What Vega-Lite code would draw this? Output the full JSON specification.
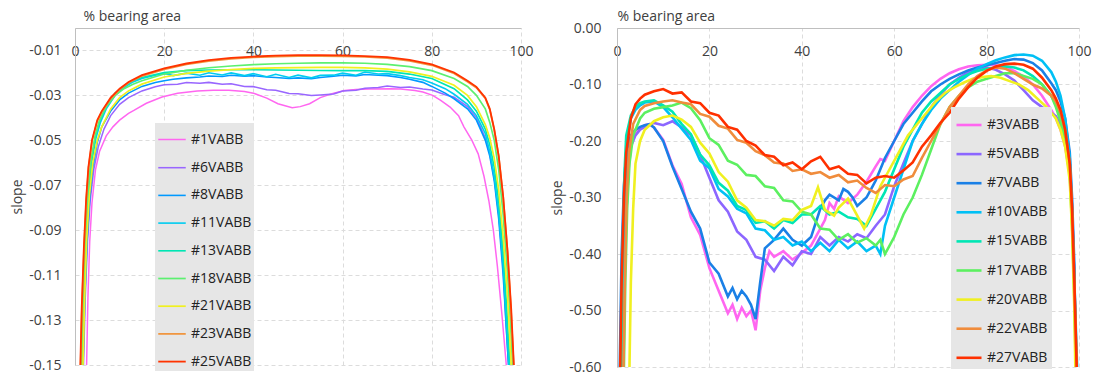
{
"$schema": "https://vega.github.io/schema/vega-lite/v6.json",
"background": "white",
"padding": {"left": 10, "top": 9, "right": 5, "bottom": 0},
"spacing": 16,
"config": {
  "font": "Open Sans",
  "view": {"stroke": null},
  "axis": {"labelFont": "Open Sans", "labelFontSize": 14, "labelColor": "#404040", "titleFont": "Open Sans", "titleFontSize": 14, "titleFontWeight": "normal", "titleColor": "#404040", "domainColor": "#bfbfbf", "gridColor": "#dcdcdc", "gridDash": [4, 3], "ticks": false, "tickSize": 0},
  "legend": {"orient": "none", "fillColor": "#e6e6e6", "symbolType": "stroke", "symbolStrokeWidth": 1.6, "labelFont": "Open Sans", "labelFontSize": 14, "labelColor": "#222222", "labelOffset": 4, "rowPadding": 0}
},
"datasets": {
"left": [
{"s":"#1VABB","x":2.6,"y":-0.15},{"s":"#1VABB","x":2.9,"y":-0.12},{"s":"#1VABB","x":3.3,"y":-0.095},{"s":"#1VABB","x":3.8,"y":-0.078},{"s":"#1VABB","x":4.6,"y":-0.063},{"s":"#1VABB","x":5.5,"y":-0.055},{"s":"#1VABB","x":7,"y":-0.048},{"s":"#1VABB","x":8.5,"y":-0.044},{"s":"#1VABB","x":10,"y":-0.041},{"s":"#1VABB","x":12,"y":-0.038},{"s":"#1VABB","x":13.2,"y":-0.0367},{"s":"#1VABB","x":16,"y":-0.0335},{"s":"#1VABB","x":19.5,"y":-0.0307},{"s":"#1VABB","x":23,"y":-0.029},{"s":"#1VABB","x":27.4,"y":-0.028},{"s":"#1VABB","x":31,"y":-0.0277},{"s":"#1VABB","x":34.5,"y":-0.0277},{"s":"#1VABB","x":38,"y":-0.0283},{"s":"#1VABB","x":40,"y":-0.029},{"s":"#1VABB","x":43,"y":-0.0312},{"s":"#1VABB","x":45.5,"y":-0.0337},{"s":"#1VABB","x":48.7,"y":-0.0355},{"s":"#1VABB","x":50.5,"y":-0.035},{"s":"#1VABB","x":52.6,"y":-0.0337},{"s":"#1VABB","x":55,"y":-0.031},{"s":"#1VABB","x":58,"y":-0.029},{"s":"#1VABB","x":60.5,"y":-0.0278},{"s":"#1VABB","x":63,"y":-0.0274},{"s":"#1VABB","x":66,"y":-0.0272},{"s":"#1VABB","x":70.7,"y":-0.027},{"s":"#1VABB","x":73,"y":-0.0272},{"s":"#1VABB","x":76.2,"y":-0.0278},{"s":"#1VABB","x":78,"y":-0.0285},{"s":"#1VABB","x":80.2,"y":-0.03},{"s":"#1VABB","x":82,"y":-0.0322},{"s":"#1VABB","x":84.1,"y":-0.0352},{"s":"#1VABB","x":86,"y":-0.039},{"s":"#1VABB","x":87.2,"y":-0.044},{"s":"#1VABB","x":89,"y":-0.05},{"s":"#1VABB","x":90.4,"y":-0.056},{"s":"#1VABB","x":91.7,"y":-0.066},{"s":"#1VABB","x":92.8,"y":-0.077},{"s":"#1VABB","x":93.8,"y":-0.09},{"s":"#1VABB","x":94.7,"y":-0.106},{"s":"#1VABB","x":95.7,"y":-0.127},{"s":"#1VABB","x":96.7,"y":-0.15},
{"s":"#6VABB","x":1.9,"y":-0.15},{"s":"#6VABB","x":2.3,"y":-0.12},{"s":"#6VABB","x":2.8,"y":-0.095},{"s":"#6VABB","x":3.4,"y":-0.077},{"s":"#6VABB","x":4.2,"y":-0.063},{"s":"#6VABB","x":5.2,"y":-0.053},{"s":"#6VABB","x":6.5,"y":-0.045},{"s":"#6VABB","x":8,"y":-0.039},{"s":"#6VABB","x":10,"y":-0.034},{"s":"#6VABB","x":12,"y":-0.031},{"s":"#6VABB","x":15,"y":-0.028},{"s":"#6VABB","x":18,"y":-0.0262},{"s":"#6VABB","x":20,"y":-0.0253},{"s":"#6VABB","x":23,"y":-0.025},{"s":"#6VABB","x":25,"y":-0.0243},{"s":"#6VABB","x":28,"y":-0.0246},{"s":"#6VABB","x":30,"y":-0.0242},{"s":"#6VABB","x":33,"y":-0.025},{"s":"#6VABB","x":35,"y":-0.0248},{"s":"#6VABB","x":38,"y":-0.026},{"s":"#6VABB","x":40,"y":-0.0261},{"s":"#6VABB","x":43,"y":-0.0275},{"s":"#6VABB","x":45,"y":-0.0277},{"s":"#6VABB","x":48,"y":-0.0292},{"s":"#6VABB","x":50,"y":-0.0293},{"s":"#6VABB","x":53,"y":-0.03},{"s":"#6VABB","x":55,"y":-0.0298},{"s":"#6VABB","x":58,"y":-0.0294},{"s":"#6VABB","x":60,"y":-0.028},{"s":"#6VABB","x":63,"y":-0.0277},{"s":"#6VABB","x":65,"y":-0.0268},{"s":"#6VABB","x":68,"y":-0.0265},{"s":"#6VABB","x":70,"y":-0.0258},{"s":"#6VABB","x":73,"y":-0.0265},{"s":"#6VABB","x":75,"y":-0.0263},{"s":"#6VABB","x":78,"y":-0.0272},{"s":"#6VABB","x":80,"y":-0.0276},{"s":"#6VABB","x":83,"y":-0.0297},{"s":"#6VABB","x":85,"y":-0.0308},{"s":"#6VABB","x":88,"y":-0.035},{"s":"#6VABB","x":90,"y":-0.04},{"s":"#6VABB","x":92,"y":-0.049},{"s":"#6VABB","x":93,"y":-0.056},{"s":"#6VABB","x":94,"y":-0.067},{"s":"#6VABB","x":95,"y":-0.083},{"s":"#6VABB","x":96,"y":-0.107},{"s":"#6VABB","x":96.6,"y":-0.13},{"s":"#6VABB","x":97.2,"y":-0.15},
{"s":"#8VABB","x":1.8,"y":-0.15},{"s":"#8VABB","x":2.2,"y":-0.12},{"s":"#8VABB","x":2.7,"y":-0.095},{"s":"#8VABB","x":3.3,"y":-0.076},{"s":"#8VABB","x":4,"y":-0.062},{"s":"#8VABB","x":5,"y":-0.051},{"s":"#8VABB","x":6,"y":-0.044},{"s":"#8VABB","x":8,"y":-0.037},{"s":"#8VABB","x":10,"y":-0.032},{"s":"#8VABB","x":12,"y":-0.029},{"s":"#8VABB","x":15,"y":-0.026},{"s":"#8VABB","x":18,"y":-0.0243},{"s":"#8VABB","x":20,"y":-0.0235},{"s":"#8VABB","x":22,"y":-0.0228},{"s":"#8VABB","x":25,"y":-0.0222},{"s":"#8VABB","x":28,"y":-0.0218},{"s":"#8VABB","x":30,"y":-0.0214},{"s":"#8VABB","x":33,"y":-0.0216},{"s":"#8VABB","x":35,"y":-0.021},{"s":"#8VABB","x":38,"y":-0.0215},{"s":"#8VABB","x":40,"y":-0.0212},{"s":"#8VABB","x":43,"y":-0.0218},{"s":"#8VABB","x":45,"y":-0.022},{"s":"#8VABB","x":48,"y":-0.0225},{"s":"#8VABB","x":50,"y":-0.0222},{"s":"#8VABB","x":53,"y":-0.0226},{"s":"#8VABB","x":55,"y":-0.022},{"s":"#8VABB","x":58,"y":-0.0215},{"s":"#8VABB","x":60,"y":-0.021},{"s":"#8VABB","x":63,"y":-0.0213},{"s":"#8VABB","x":65,"y":-0.0207},{"s":"#8VABB","x":68,"y":-0.021},{"s":"#8VABB","x":70,"y":-0.0212},{"s":"#8VABB","x":73,"y":-0.022},{"s":"#8VABB","x":75,"y":-0.0228},{"s":"#8VABB","x":78,"y":-0.0242},{"s":"#8VABB","x":80,"y":-0.026},{"s":"#8VABB","x":83,"y":-0.029},{"s":"#8VABB","x":85,"y":-0.0315},{"s":"#8VABB","x":88,"y":-0.036},{"s":"#8VABB","x":90,"y":-0.041},{"s":"#8VABB","x":92,"y":-0.05},{"s":"#8VABB","x":93,"y":-0.057},{"s":"#8VABB","x":94,"y":-0.068},{"s":"#8VABB","x":95,"y":-0.085},{"s":"#8VABB","x":96,"y":-0.11},{"s":"#8VABB","x":96.6,"y":-0.13},{"s":"#8VABB","x":97.2,"y":-0.15},
{"s":"#11VABB","x":1.6,"y":-0.15},{"s":"#11VABB","x":2,"y":-0.12},{"s":"#11VABB","x":2.5,"y":-0.093},{"s":"#11VABB","x":3,"y":-0.076},{"s":"#11VABB","x":3.7,"y":-0.06},{"s":"#11VABB","x":4.7,"y":-0.049},{"s":"#11VABB","x":5.7,"y":-0.042},{"s":"#11VABB","x":7,"y":-0.036},{"s":"#11VABB","x":9,"y":-0.03},{"s":"#11VABB","x":11,"y":-0.0265},{"s":"#11VABB","x":13,"y":-0.024},{"s":"#11VABB","x":15,"y":-0.0225},{"s":"#11VABB","x":18,"y":-0.021},{"s":"#11VABB","x":20,"y":-0.0202},{"s":"#11VABB","x":22,"y":-0.0212},{"s":"#11VABB","x":25,"y":-0.0201},{"s":"#11VABB","x":28,"y":-0.021},{"s":"#11VABB","x":30,"y":-0.0199},{"s":"#11VABB","x":33,"y":-0.0209},{"s":"#11VABB","x":35,"y":-0.02},{"s":"#11VABB","x":38,"y":-0.0212},{"s":"#11VABB","x":40,"y":-0.0203},{"s":"#11VABB","x":43,"y":-0.0217},{"s":"#11VABB","x":45,"y":-0.0206},{"s":"#11VABB","x":48,"y":-0.022},{"s":"#11VABB","x":50,"y":-0.021},{"s":"#11VABB","x":53,"y":-0.0222},{"s":"#11VABB","x":55,"y":-0.0211},{"s":"#11VABB","x":58,"y":-0.021},{"s":"#11VABB","x":60,"y":-0.0201},{"s":"#11VABB","x":63,"y":-0.021},{"s":"#11VABB","x":65,"y":-0.0196},{"s":"#11VABB","x":68,"y":-0.0205},{"s":"#11VABB","x":70,"y":-0.0203},{"s":"#11VABB","x":73,"y":-0.0212},{"s":"#11VABB","x":75,"y":-0.022},{"s":"#11VABB","x":78,"y":-0.023},{"s":"#11VABB","x":80,"y":-0.0245},{"s":"#11VABB","x":83,"y":-0.027},{"s":"#11VABB","x":85,"y":-0.0295},{"s":"#11VABB","x":88,"y":-0.034},{"s":"#11VABB","x":90,"y":-0.039},{"s":"#11VABB","x":92,"y":-0.047},{"s":"#11VABB","x":93,"y":-0.055},{"s":"#11VABB","x":94,"y":-0.066},{"s":"#11VABB","x":95,"y":-0.082},{"s":"#11VABB","x":96,"y":-0.105},{"s":"#11VABB","x":96.7,"y":-0.13},{"s":"#11VABB","x":97.3,"y":-0.15},
{"s":"#13VABB","x":1.6,"y":-0.15},{"s":"#13VABB","x":1.9,"y":-0.125},{"s":"#13VABB","x":2.4,"y":-0.095},{"s":"#13VABB","x":2.9,"y":-0.076},{"s":"#13VABB","x":3.6,"y":-0.06},{"s":"#13VABB","x":4.6,"y":-0.048},{"s":"#13VABB","x":5.6,"y":-0.041},{"s":"#13VABB","x":7,"y":-0.035},{"s":"#13VABB","x":9,"y":-0.029},{"s":"#13VABB","x":11,"y":-0.026},{"s":"#13VABB","x":13,"y":-0.0235},{"s":"#13VABB","x":15,"y":-0.022},{"s":"#13VABB","x":20,"y":-0.0198},{"s":"#13VABB","x":25,"y":-0.019},{"s":"#13VABB","x":30,"y":-0.0187},{"s":"#13VABB","x":35,"y":-0.0186},{"s":"#13VABB","x":40,"y":-0.0186},{"s":"#13VABB","x":45,"y":-0.0187},{"s":"#13VABB","x":50,"y":-0.0188},{"s":"#13VABB","x":55,"y":-0.0189},{"s":"#13VABB","x":60,"y":-0.019},{"s":"#13VABB","x":65,"y":-0.019},{"s":"#13VABB","x":70,"y":-0.0193},{"s":"#13VABB","x":75,"y":-0.0205},{"s":"#13VABB","x":80,"y":-0.0225},{"s":"#13VABB","x":85,"y":-0.027},{"s":"#13VABB","x":88,"y":-0.032},{"s":"#13VABB","x":90,"y":-0.037},{"s":"#13VABB","x":92,"y":-0.045},{"s":"#13VABB","x":93,"y":-0.052},{"s":"#13VABB","x":94,"y":-0.062},{"s":"#13VABB","x":95,"y":-0.077},{"s":"#13VABB","x":96,"y":-0.1},{"s":"#13VABB","x":96.8,"y":-0.125},{"s":"#13VABB","x":97.5,"y":-0.15},
{"s":"#18VABB","x":1.5,"y":-0.15},{"s":"#18VABB","x":1.8,"y":-0.125},{"s":"#18VABB","x":2.3,"y":-0.095},{"s":"#18VABB","x":2.8,"y":-0.076},{"s":"#18VABB","x":3.5,"y":-0.06},{"s":"#18VABB","x":4.5,"y":-0.048},{"s":"#18VABB","x":5.5,"y":-0.041},{"s":"#18VABB","x":7,"y":-0.035},{"s":"#18VABB","x":9,"y":-0.03},{"s":"#18VABB","x":11,"y":-0.027},{"s":"#18VABB","x":13,"y":-0.025},{"s":"#18VABB","x":15,"y":-0.0235},{"s":"#18VABB","x":20,"y":-0.0205},{"s":"#18VABB","x":25,"y":-0.0188},{"s":"#18VABB","x":30,"y":-0.0177},{"s":"#18VABB","x":35,"y":-0.0169},{"s":"#18VABB","x":40,"y":-0.0163},{"s":"#18VABB","x":45,"y":-0.0159},{"s":"#18VABB","x":50,"y":-0.0157},{"s":"#18VABB","x":55,"y":-0.0155},{"s":"#18VABB","x":60,"y":-0.0155},{"s":"#18VABB","x":65,"y":-0.0157},{"s":"#18VABB","x":70,"y":-0.0162},{"s":"#18VABB","x":75,"y":-0.0172},{"s":"#18VABB","x":80,"y":-0.019},{"s":"#18VABB","x":85,"y":-0.0225},{"s":"#18VABB","x":88,"y":-0.026},{"s":"#18VABB","x":90,"y":-0.03},{"s":"#18VABB","x":92,"y":-0.036},{"s":"#18VABB","x":93,"y":-0.042},{"s":"#18VABB","x":94,"y":-0.05},{"s":"#18VABB","x":95,"y":-0.063},{"s":"#18VABB","x":96,"y":-0.083},{"s":"#18VABB","x":97,"y":-0.11},{"s":"#18VABB","x":97.6,"y":-0.13},{"s":"#18VABB","x":98.1,"y":-0.15},
{"s":"#21VABB","x":1.8,"y":-0.15},{"s":"#21VABB","x":2.1,"y":-0.125},{"s":"#21VABB","x":2.6,"y":-0.095},{"s":"#21VABB","x":3.2,"y":-0.075},{"s":"#21VABB","x":4,"y":-0.06},{"s":"#21VABB","x":5,"y":-0.05},{"s":"#21VABB","x":6,"y":-0.044},{"s":"#21VABB","x":8,"y":-0.036},{"s":"#21VABB","x":10,"y":-0.031},{"s":"#21VABB","x":12,"y":-0.028},{"s":"#21VABB","x":15,"y":-0.025},{"s":"#21VABB","x":20,"y":-0.0218},{"s":"#21VABB","x":25,"y":-0.0202},{"s":"#21VABB","x":30,"y":-0.0192},{"s":"#21VABB","x":35,"y":-0.0185},{"s":"#21VABB","x":40,"y":-0.018},{"s":"#21VABB","x":45,"y":-0.0177},{"s":"#21VABB","x":50,"y":-0.0176},{"s":"#21VABB","x":55,"y":-0.0175},{"s":"#21VABB","x":60,"y":-0.0175},{"s":"#21VABB","x":65,"y":-0.0177},{"s":"#21VABB","x":70,"y":-0.0183},{"s":"#21VABB","x":75,"y":-0.0195},{"s":"#21VABB","x":80,"y":-0.0215},{"s":"#21VABB","x":85,"y":-0.0255},{"s":"#21VABB","x":88,"y":-0.03},{"s":"#21VABB","x":90,"y":-0.035},{"s":"#21VABB","x":92,"y":-0.043},{"s":"#21VABB","x":93,"y":-0.049},{"s":"#21VABB","x":94,"y":-0.058},{"s":"#21VABB","x":95,"y":-0.072},{"s":"#21VABB","x":96,"y":-0.093},{"s":"#21VABB","x":97,"y":-0.12},{"s":"#21VABB","x":97.8,"y":-0.15},
{"s":"#23VABB","x":1.25,"y":-0.15},{"s":"#23VABB","x":1.55,"y":-0.125},{"s":"#23VABB","x":2.05,"y":-0.097},{"s":"#23VABB","x":2.55,"y":-0.076},{"s":"#23VABB","x":3.05,"y":-0.062},{"s":"#23VABB","x":3.85,"y":-0.05},{"s":"#23VABB","x":5,"y":-0.0414},{"s":"#23VABB","x":6,"y":-0.0374},{"s":"#23VABB","x":8,"y":-0.0314},{"s":"#23VABB","x":10,"y":-0.0274},{"s":"#23VABB","x":12,"y":-0.0244},{"s":"#23VABB","x":15,"y":-0.0214},{"s":"#23VABB","x":20,"y":-0.0184},{"s":"#23VABB","x":25,"y":-0.0162},{"s":"#23VABB","x":30,"y":-0.0147},{"s":"#23VABB","x":35,"y":-0.0137},{"s":"#23VABB","x":40,"y":-0.0131},{"s":"#23VABB","x":45,"y":-0.0127},{"s":"#23VABB","x":50,"y":-0.0125},{"s":"#23VABB","x":55,"y":-0.0125},{"s":"#23VABB","x":60,"y":-0.0126},{"s":"#23VABB","x":65,"y":-0.0129},{"s":"#23VABB","x":70,"y":-0.0134},{"s":"#23VABB","x":75,"y":-0.0146},{"s":"#23VABB","x":80,"y":-0.0166},{"s":"#23VABB","x":85,"y":-0.0202},{"s":"#23VABB","x":88,"y":-0.0239},{"s":"#23VABB","x":90,"y":-0.0266},{"s":"#23VABB","x":92,"y":-0.0314},{"s":"#23VABB","x":93,"y":-0.0364},{"s":"#23VABB","x":94,"y":-0.0454},{"s":"#23VABB","x":95,"y":-0.057},{"s":"#23VABB","x":96,"y":-0.075},{"s":"#23VABB","x":97,"y":-0.1},{"s":"#23VABB","x":97.75,"y":-0.125},{"s":"#23VABB","x":98.35,"y":-0.15},
{"s":"#25VABB","x":1.2,"y":-0.15},{"s":"#25VABB","x":1.5,"y":-0.125},{"s":"#25VABB","x":2,"y":-0.097},{"s":"#25VABB","x":2.5,"y":-0.076},{"s":"#25VABB","x":3,"y":-0.062},{"s":"#25VABB","x":3.8,"y":-0.05},{"s":"#25VABB","x":5,"y":-0.041},{"s":"#25VABB","x":6,"y":-0.037},{"s":"#25VABB","x":8,"y":-0.031},{"s":"#25VABB","x":10,"y":-0.027},{"s":"#25VABB","x":12,"y":-0.024},{"s":"#25VABB","x":15,"y":-0.021},{"s":"#25VABB","x":20,"y":-0.018},{"s":"#25VABB","x":25,"y":-0.0158},{"s":"#25VABB","x":30,"y":-0.0143},{"s":"#25VABB","x":35,"y":-0.0133},{"s":"#25VABB","x":40,"y":-0.0127},{"s":"#25VABB","x":45,"y":-0.0123},{"s":"#25VABB","x":50,"y":-0.0121},{"s":"#25VABB","x":55,"y":-0.0121},{"s":"#25VABB","x":60,"y":-0.0122},{"s":"#25VABB","x":65,"y":-0.0125},{"s":"#25VABB","x":70,"y":-0.013},{"s":"#25VABB","x":75,"y":-0.0142},{"s":"#25VABB","x":80,"y":-0.0162},{"s":"#25VABB","x":85,"y":-0.0198},{"s":"#25VABB","x":88,"y":-0.0235},{"s":"#25VABB","x":90,"y":-0.0262},{"s":"#25VABB","x":92,"y":-0.031},{"s":"#25VABB","x":93,"y":-0.036},{"s":"#25VABB","x":94,"y":-0.045},{"s":"#25VABB","x":95,"y":-0.057},{"s":"#25VABB","x":96,"y":-0.075},{"s":"#25VABB","x":97,"y":-0.1},{"s":"#25VABB","x":97.8,"y":-0.125},{"s":"#25VABB","x":98.4,"y":-0.15}
],
"right": [
{"s":"#3VABB","x":1.0,"y":-0.6},{"s":"#3VABB","x":1.3,"y":-0.45},{"s":"#3VABB","x":1.7,"y":-0.32},{"s":"#3VABB","x":2.2,"y":-0.24},{"s":"#3VABB","x":3,"y":-0.2},{"s":"#3VABB","x":4,"y":-0.185},{"s":"#3VABB","x":5,"y":-0.178},{"s":"#3VABB","x":6,"y":-0.172},{"s":"#3VABB","x":7,"y":-0.17},{"s":"#3VABB","x":8,"y":-0.176},{"s":"#3VABB","x":10,"y":-0.198},{"s":"#3VABB","x":12,"y":-0.243},{"s":"#3VABB","x":14,"y":-0.276},{"s":"#3VABB","x":16,"y":-0.335},{"s":"#3VABB","x":18,"y":-0.366},{"s":"#3VABB","x":20,"y":-0.425},{"s":"#3VABB","x":22,"y":-0.465},{"s":"#3VABB","x":24,"y":-0.505},{"s":"#3VABB","x":25,"y":-0.49},{"s":"#3VABB","x":26,"y":-0.515},{"s":"#3VABB","x":27,"y":-0.495},{"s":"#3VABB","x":28,"y":-0.51},{"s":"#3VABB","x":29,"y":-0.5},{"s":"#3VABB","x":30,"y":-0.535},{"s":"#3VABB","x":31,"y":-0.465},{"s":"#3VABB","x":32,"y":-0.425},{"s":"#3VABB","x":33,"y":-0.395},{"s":"#3VABB","x":34,"y":-0.405},{"s":"#3VABB","x":36,"y":-0.395},{"s":"#3VABB","x":38,"y":-0.41},{"s":"#3VABB","x":40,"y":-0.398},{"s":"#3VABB","x":42,"y":-0.385},{"s":"#3VABB","x":44,"y":-0.355},{"s":"#3VABB","x":45,"y":-0.34},{"s":"#3VABB","x":46,"y":-0.31},{"s":"#3VABB","x":47,"y":-0.32},{"s":"#3VABB","x":48,"y":-0.298},{"s":"#3VABB","x":50,"y":-0.31},{"s":"#3VABB","x":52,"y":-0.295},{"s":"#3VABB","x":54,"y":-0.272},{"s":"#3VABB","x":56,"y":-0.245},{"s":"#3VABB","x":57,"y":-0.232},{"s":"#3VABB","x":58,"y":-0.235},{"s":"#3VABB","x":60,"y":-0.2},{"s":"#3VABB","x":62,"y":-0.165},{"s":"#3VABB","x":64,"y":-0.14},{"s":"#3VABB","x":66,"y":-0.12},{"s":"#3VABB","x":68,"y":-0.103},{"s":"#3VABB","x":70,"y":-0.09},{"s":"#3VABB","x":72,"y":-0.08},{"s":"#3VABB","x":74,"y":-0.073},{"s":"#3VABB","x":76,"y":-0.068},{"s":"#3VABB","x":78,"y":-0.066},{"s":"#3VABB","x":80,"y":-0.065},{"s":"#3VABB","x":82,"y":-0.066},{"s":"#3VABB","x":84,"y":-0.069},{"s":"#3VABB","x":86,"y":-0.076},{"s":"#3VABB","x":88,"y":-0.086},{"s":"#3VABB","x":90,"y":-0.1},{"s":"#3VABB","x":92,"y":-0.12},{"s":"#3VABB","x":94,"y":-0.145},{"s":"#3VABB","x":95,"y":-0.16},{"s":"#3VABB","x":96,"y":-0.18},{"s":"#3VABB","x":97,"y":-0.21},{"s":"#3VABB","x":98,"y":-0.26},{"s":"#3VABB","x":98.5,"y":-0.33},{"s":"#3VABB","x":99,"y":-0.45},{"s":"#3VABB","x":99.4,"y":-0.6},
{"s":"#5VABB","x":1.2,"y":-0.6},{"s":"#5VABB","x":1.6,"y":-0.45},{"s":"#5VABB","x":2,"y":-0.33},{"s":"#5VABB","x":2.5,"y":-0.25},{"s":"#5VABB","x":3,"y":-0.21},{"s":"#5VABB","x":4,"y":-0.19},{"s":"#5VABB","x":5,"y":-0.18},{"s":"#5VABB","x":6,"y":-0.175},{"s":"#5VABB","x":8,"y":-0.168},{"s":"#5VABB","x":10,"y":-0.172},{"s":"#5VABB","x":12,"y":-0.165},{"s":"#5VABB","x":14,"y":-0.176},{"s":"#5VABB","x":16,"y":-0.19},{"s":"#5VABB","x":18,"y":-0.225},{"s":"#5VABB","x":20,"y":-0.265},{"s":"#5VABB","x":22,"y":-0.305},{"s":"#5VABB","x":24,"y":-0.325},{"s":"#5VABB","x":26,"y":-0.36},{"s":"#5VABB","x":28,"y":-0.375},{"s":"#5VABB","x":30,"y":-0.405},{"s":"#5VABB","x":32,"y":-0.41},{"s":"#5VABB","x":34,"y":-0.43},{"s":"#5VABB","x":36,"y":-0.405},{"s":"#5VABB","x":38,"y":-0.42},{"s":"#5VABB","x":40,"y":-0.395},{"s":"#5VABB","x":42,"y":-0.4},{"s":"#5VABB","x":44,"y":-0.37},{"s":"#5VABB","x":46,"y":-0.385},{"s":"#5VABB","x":48,"y":-0.37},{"s":"#5VABB","x":50,"y":-0.378},{"s":"#5VABB","x":52,"y":-0.365},{"s":"#5VABB","x":54,"y":-0.372},{"s":"#5VABB","x":56,"y":-0.35},{"s":"#5VABB","x":58,"y":-0.33},{"s":"#5VABB","x":60,"y":-0.28},{"s":"#5VABB","x":62,"y":-0.24},{"s":"#5VABB","x":64,"y":-0.2},{"s":"#5VABB","x":66,"y":-0.17},{"s":"#5VABB","x":68,"y":-0.14},{"s":"#5VABB","x":70,"y":-0.118},{"s":"#5VABB","x":72,"y":-0.1},{"s":"#5VABB","x":74,"y":-0.088},{"s":"#5VABB","x":76,"y":-0.078},{"s":"#5VABB","x":78,"y":-0.072},{"s":"#5VABB","x":80,"y":-0.07},{"s":"#5VABB","x":82,"y":-0.074},{"s":"#5VABB","x":84,"y":-0.082},{"s":"#5VABB","x":86,"y":-0.093},{"s":"#5VABB","x":88,"y":-0.11},{"s":"#5VABB","x":90,"y":-0.128},{"s":"#5VABB","x":92,"y":-0.14},{"s":"#5VABB","x":94,"y":-0.15},{"s":"#5VABB","x":95,"y":-0.156},{"s":"#5VABB","x":96,"y":-0.17},{"s":"#5VABB","x":97,"y":-0.2},{"s":"#5VABB","x":98,"y":-0.25},{"s":"#5VABB","x":98.5,"y":-0.32},{"s":"#5VABB","x":99,"y":-0.45},{"s":"#5VABB","x":99.4,"y":-0.6},
{"s":"#7VABB","x":0.6,"y":-0.6},{"s":"#7VABB","x":1,"y":-0.4},{"s":"#7VABB","x":1.5,"y":-0.28},{"s":"#7VABB","x":2,"y":-0.22},{"s":"#7VABB","x":3,"y":-0.19},{"s":"#7VABB","x":4,"y":-0.18},{"s":"#7VABB","x":5,"y":-0.175},{"s":"#7VABB","x":6,"y":-0.172},{"s":"#7VABB","x":7,"y":-0.17},{"s":"#7VABB","x":8,"y":-0.176},{"s":"#7VABB","x":10,"y":-0.2},{"s":"#7VABB","x":12,"y":-0.245},{"s":"#7VABB","x":14,"y":-0.285},{"s":"#7VABB","x":16,"y":-0.325},{"s":"#7VABB","x":18,"y":-0.355},{"s":"#7VABB","x":20,"y":-0.415},{"s":"#7VABB","x":22,"y":-0.435},{"s":"#7VABB","x":24,"y":-0.475},{"s":"#7VABB","x":25,"y":-0.46},{"s":"#7VABB","x":26,"y":-0.48},{"s":"#7VABB","x":27,"y":-0.465},{"s":"#7VABB","x":28,"y":-0.475},{"s":"#7VABB","x":29,"y":-0.49},{"s":"#7VABB","x":30,"y":-0.515},{"s":"#7VABB","x":31,"y":-0.45},{"s":"#7VABB","x":32,"y":-0.39},{"s":"#7VABB","x":34,"y":-0.375},{"s":"#7VABB","x":36,"y":-0.355},{"s":"#7VABB","x":38,"y":-0.375},{"s":"#7VABB","x":40,"y":-0.385},{"s":"#7VABB","x":42,"y":-0.37},{"s":"#7VABB","x":44,"y":-0.32},{"s":"#7VABB","x":45,"y":-0.305},{"s":"#7VABB","x":46,"y":-0.295},{"s":"#7VABB","x":48,"y":-0.305},{"s":"#7VABB","x":49,"y":-0.285},{"s":"#7VABB","x":50,"y":-0.29},{"s":"#7VABB","x":51,"y":-0.3},{"s":"#7VABB","x":52,"y":-0.315},{"s":"#7VABB","x":54,"y":-0.3},{"s":"#7VABB","x":55,"y":-0.285},{"s":"#7VABB","x":56,"y":-0.27},{"s":"#7VABB","x":58,"y":-0.23},{"s":"#7VABB","x":60,"y":-0.2},{"s":"#7VABB","x":62,"y":-0.17},{"s":"#7VABB","x":64,"y":-0.15},{"s":"#7VABB","x":66,"y":-0.13},{"s":"#7VABB","x":68,"y":-0.112},{"s":"#7VABB","x":70,"y":-0.1},{"s":"#7VABB","x":72,"y":-0.09},{"s":"#7VABB","x":74,"y":-0.082},{"s":"#7VABB","x":76,"y":-0.075},{"s":"#7VABB","x":78,"y":-0.07},{"s":"#7VABB","x":80,"y":-0.066},{"s":"#7VABB","x":82,"y":-0.062},{"s":"#7VABB","x":84,"y":-0.058},{"s":"#7VABB","x":86,"y":-0.055},{"s":"#7VABB","x":88,"y":-0.056},{"s":"#7VABB","x":90,"y":-0.062},{"s":"#7VABB","x":92,"y":-0.075},{"s":"#7VABB","x":94,"y":-0.098},{"s":"#7VABB","x":95,"y":-0.11},{"s":"#7VABB","x":96,"y":-0.13},{"s":"#7VABB","x":97,"y":-0.16},{"s":"#7VABB","x":98,"y":-0.22},{"s":"#7VABB","x":98.5,"y":-0.3},{"s":"#7VABB","x":99,"y":-0.42},{"s":"#7VABB","x":99.3,"y":-0.6},
{"s":"#10VABB","x":1.0,"y":-0.6},{"s":"#10VABB","x":1.3,"y":-0.45},{"s":"#10VABB","x":1.7,"y":-0.3},{"s":"#10VABB","x":2.2,"y":-0.2},{"s":"#10VABB","x":3,"y":-0.16},{"s":"#10VABB","x":4,"y":-0.145},{"s":"#10VABB","x":5,"y":-0.137},{"s":"#10VABB","x":6,"y":-0.132},{"s":"#10VABB","x":8,"y":-0.13},{"s":"#10VABB","x":10,"y":-0.14},{"s":"#10VABB","x":12,"y":-0.158},{"s":"#10VABB","x":14,"y":-0.178},{"s":"#10VABB","x":16,"y":-0.198},{"s":"#10VABB","x":18,"y":-0.235},{"s":"#10VABB","x":20,"y":-0.248},{"s":"#10VABB","x":22,"y":-0.285},{"s":"#10VABB","x":24,"y":-0.298},{"s":"#10VABB","x":26,"y":-0.32},{"s":"#10VABB","x":28,"y":-0.328},{"s":"#10VABB","x":30,"y":-0.355},{"s":"#10VABB","x":32,"y":-0.358},{"s":"#10VABB","x":34,"y":-0.375},{"s":"#10VABB","x":36,"y":-0.37},{"s":"#10VABB","x":38,"y":-0.385},{"s":"#10VABB","x":40,"y":-0.378},{"s":"#10VABB","x":42,"y":-0.395},{"s":"#10VABB","x":44,"y":-0.38},{"s":"#10VABB","x":46,"y":-0.395},{"s":"#10VABB","x":48,"y":-0.375},{"s":"#10VABB","x":50,"y":-0.39},{"s":"#10VABB","x":52,"y":-0.378},{"s":"#10VABB","x":54,"y":-0.395},{"s":"#10VABB","x":56,"y":-0.385},{"s":"#10VABB","x":57,"y":-0.4},{"s":"#10VABB","x":58,"y":-0.35},{"s":"#10VABB","x":60,"y":-0.3},{"s":"#10VABB","x":62,"y":-0.25},{"s":"#10VABB","x":64,"y":-0.2},{"s":"#10VABB","x":66,"y":-0.17},{"s":"#10VABB","x":68,"y":-0.145},{"s":"#10VABB","x":70,"y":-0.125},{"s":"#10VABB","x":72,"y":-0.11},{"s":"#10VABB","x":74,"y":-0.095},{"s":"#10VABB","x":76,"y":-0.083},{"s":"#10VABB","x":78,"y":-0.072},{"s":"#10VABB","x":80,"y":-0.064},{"s":"#10VABB","x":82,"y":-0.057},{"s":"#10VABB","x":84,"y":-0.052},{"s":"#10VABB","x":86,"y":-0.048},{"s":"#10VABB","x":88,"y":-0.047},{"s":"#10VABB","x":90,"y":-0.049},{"s":"#10VABB","x":92,"y":-0.058},{"s":"#10VABB","x":94,"y":-0.078},{"s":"#10VABB","x":95,"y":-0.095},{"s":"#10VABB","x":96,"y":-0.12},{"s":"#10VABB","x":97,"y":-0.16},{"s":"#10VABB","x":98,"y":-0.23},{"s":"#10VABB","x":98.5,"y":-0.32},{"s":"#10VABB","x":99,"y":-0.45},{"s":"#10VABB","x":99.6,"y":-0.6},
{"s":"#15VABB","x":0.9,"y":-0.6},{"s":"#15VABB","x":1.2,"y":-0.4},{"s":"#15VABB","x":1.6,"y":-0.26},{"s":"#15VABB","x":2,"y":-0.19},{"s":"#15VABB","x":3,"y":-0.155},{"s":"#15VABB","x":4,"y":-0.14},{"s":"#15VABB","x":5,"y":-0.133},{"s":"#15VABB","x":6,"y":-0.13},{"s":"#15VABB","x":8,"y":-0.128},{"s":"#15VABB","x":10,"y":-0.137},{"s":"#15VABB","x":12,"y":-0.148},{"s":"#15VABB","x":14,"y":-0.17},{"s":"#15VABB","x":16,"y":-0.188},{"s":"#15VABB","x":18,"y":-0.224},{"s":"#15VABB","x":20,"y":-0.243},{"s":"#15VABB","x":22,"y":-0.274},{"s":"#15VABB","x":24,"y":-0.288},{"s":"#15VABB","x":26,"y":-0.315},{"s":"#15VABB","x":28,"y":-0.322},{"s":"#15VABB","x":30,"y":-0.345},{"s":"#15VABB","x":32,"y":-0.342},{"s":"#15VABB","x":34,"y":-0.355},{"s":"#15VABB","x":36,"y":-0.34},{"s":"#15VABB","x":38,"y":-0.345},{"s":"#15VABB","x":40,"y":-0.33},{"s":"#15VABB","x":42,"y":-0.33},{"s":"#15VABB","x":44,"y":-0.315},{"s":"#15VABB","x":46,"y":-0.33},{"s":"#15VABB","x":48,"y":-0.325},{"s":"#15VABB","x":50,"y":-0.335},{"s":"#15VABB","x":52,"y":-0.338},{"s":"#15VABB","x":54,"y":-0.35},{"s":"#15VABB","x":56,"y":-0.32},{"s":"#15VABB","x":58,"y":-0.29},{"s":"#15VABB","x":60,"y":-0.25},{"s":"#15VABB","x":62,"y":-0.21},{"s":"#15VABB","x":64,"y":-0.18},{"s":"#15VABB","x":66,"y":-0.15},{"s":"#15VABB","x":68,"y":-0.13},{"s":"#15VABB","x":70,"y":-0.115},{"s":"#15VABB","x":72,"y":-0.1},{"s":"#15VABB","x":74,"y":-0.09},{"s":"#15VABB","x":76,"y":-0.082},{"s":"#15VABB","x":78,"y":-0.076},{"s":"#15VABB","x":80,"y":-0.072},{"s":"#15VABB","x":82,"y":-0.07},{"s":"#15VABB","x":84,"y":-0.068},{"s":"#15VABB","x":86,"y":-0.07},{"s":"#15VABB","x":88,"y":-0.075},{"s":"#15VABB","x":90,"y":-0.085},{"s":"#15VABB","x":92,"y":-0.1},{"s":"#15VABB","x":94,"y":-0.12},{"s":"#15VABB","x":95,"y":-0.135},{"s":"#15VABB","x":96,"y":-0.155},{"s":"#15VABB","x":97,"y":-0.19},{"s":"#15VABB","x":98,"y":-0.25},{"s":"#15VABB","x":98.5,"y":-0.33},{"s":"#15VABB","x":99,"y":-0.46},{"s":"#15VABB","x":99.4,"y":-0.6},
{"s":"#17VABB","x":1.5,"y":-0.6},{"s":"#17VABB","x":1.8,"y":-0.45},{"s":"#17VABB","x":2.2,"y":-0.32},{"s":"#17VABB","x":2.7,"y":-0.24},{"s":"#17VABB","x":3.5,"y":-0.19},{"s":"#17VABB","x":5,"y":-0.16},{"s":"#17VABB","x":6,"y":-0.15},{"s":"#17VABB","x":8,"y":-0.143},{"s":"#17VABB","x":10,"y":-0.14},{"s":"#17VABB","x":12,"y":-0.137},{"s":"#17VABB","x":14,"y":-0.132},{"s":"#17VABB","x":16,"y":-0.142},{"s":"#17VABB","x":18,"y":-0.163},{"s":"#17VABB","x":20,"y":-0.195},{"s":"#17VABB","x":22,"y":-0.207},{"s":"#17VABB","x":24,"y":-0.235},{"s":"#17VABB","x":26,"y":-0.242},{"s":"#17VABB","x":28,"y":-0.26},{"s":"#17VABB","x":30,"y":-0.262},{"s":"#17VABB","x":32,"y":-0.28},{"s":"#17VABB","x":34,"y":-0.283},{"s":"#17VABB","x":36,"y":-0.305},{"s":"#17VABB","x":38,"y":-0.307},{"s":"#17VABB","x":40,"y":-0.325},{"s":"#17VABB","x":42,"y":-0.33},{"s":"#17VABB","x":44,"y":-0.355},{"s":"#17VABB","x":46,"y":-0.357},{"s":"#17VABB","x":48,"y":-0.375},{"s":"#17VABB","x":50,"y":-0.365},{"s":"#17VABB","x":52,"y":-0.38},{"s":"#17VABB","x":54,"y":-0.372},{"s":"#17VABB","x":56,"y":-0.385},{"s":"#17VABB","x":57,"y":-0.375},{"s":"#17VABB","x":58,"y":-0.4},{"s":"#17VABB","x":59,"y":-0.385},{"s":"#17VABB","x":60,"y":-0.37},{"s":"#17VABB","x":62,"y":-0.33},{"s":"#17VABB","x":64,"y":-0.3},{"s":"#17VABB","x":66,"y":-0.26},{"s":"#17VABB","x":68,"y":-0.215},{"s":"#17VABB","x":70,"y":-0.17},{"s":"#17VABB","x":72,"y":-0.14},{"s":"#17VABB","x":74,"y":-0.12},{"s":"#17VABB","x":76,"y":-0.105},{"s":"#17VABB","x":78,"y":-0.095},{"s":"#17VABB","x":80,"y":-0.09},{"s":"#17VABB","x":82,"y":-0.085},{"s":"#17VABB","x":84,"y":-0.08},{"s":"#17VABB","x":86,"y":-0.08},{"s":"#17VABB","x":88,"y":-0.085},{"s":"#17VABB","x":90,"y":-0.09},{"s":"#17VABB","x":92,"y":-0.1},{"s":"#17VABB","x":94,"y":-0.12},{"s":"#17VABB","x":95,"y":-0.14},{"s":"#17VABB","x":96,"y":-0.165},{"s":"#17VABB","x":97,"y":-0.2},{"s":"#17VABB","x":98,"y":-0.26},{"s":"#17VABB","x":98.5,"y":-0.35},{"s":"#17VABB","x":99,"y":-0.48},{"s":"#17VABB","x":99.3,"y":-0.6},
{"s":"#20VABB","x":2.7,"y":-0.6},{"s":"#20VABB","x":3,"y":-0.45},{"s":"#20VABB","x":3.5,"y":-0.32},{"s":"#20VABB","x":4,"y":-0.24},{"s":"#20VABB","x":5,"y":-0.2},{"s":"#20VABB","x":6,"y":-0.18},{"s":"#20VABB","x":8,"y":-0.165},{"s":"#20VABB","x":10,"y":-0.158},{"s":"#20VABB","x":12,"y":-0.155},{"s":"#20VABB","x":14,"y":-0.162},{"s":"#20VABB","x":16,"y":-0.175},{"s":"#20VABB","x":18,"y":-0.203},{"s":"#20VABB","x":20,"y":-0.222},{"s":"#20VABB","x":22,"y":-0.255},{"s":"#20VABB","x":24,"y":-0.272},{"s":"#20VABB","x":26,"y":-0.305},{"s":"#20VABB","x":28,"y":-0.318},{"s":"#20VABB","x":30,"y":-0.34},{"s":"#20VABB","x":32,"y":-0.342},{"s":"#20VABB","x":34,"y":-0.35},{"s":"#20VABB","x":36,"y":-0.338},{"s":"#20VABB","x":38,"y":-0.34},{"s":"#20VABB","x":40,"y":-0.322},{"s":"#20VABB","x":42,"y":-0.315},{"s":"#20VABB","x":43.5,"y":-0.282},{"s":"#20VABB","x":45,"y":-0.322},{"s":"#20VABB","x":47,"y":-0.332},{"s":"#20VABB","x":48,"y":-0.318},{"s":"#20VABB","x":50,"y":-0.302},{"s":"#20VABB","x":52,"y":-0.332},{"s":"#20VABB","x":53.5,"y":-0.355},{"s":"#20VABB","x":55,"y":-0.33},{"s":"#20VABB","x":57,"y":-0.28},{"s":"#20VABB","x":59,"y":-0.25},{"s":"#20VABB","x":61,"y":-0.22},{"s":"#20VABB","x":63,"y":-0.19},{"s":"#20VABB","x":65,"y":-0.17},{"s":"#20VABB","x":67,"y":-0.15},{"s":"#20VABB","x":69,"y":-0.13},{"s":"#20VABB","x":71,"y":-0.115},{"s":"#20VABB","x":73,"y":-0.105},{"s":"#20VABB","x":75,"y":-0.097},{"s":"#20VABB","x":77,"y":-0.09},{"s":"#20VABB","x":79,"y":-0.087},{"s":"#20VABB","x":81,"y":-0.085},{"s":"#20VABB","x":83,"y":-0.088},{"s":"#20VABB","x":85,"y":-0.094},{"s":"#20VABB","x":87,"y":-0.1},{"s":"#20VABB","x":89,"y":-0.11},{"s":"#20VABB","x":91,"y":-0.125},{"s":"#20VABB","x":93,"y":-0.14},{"s":"#20VABB","x":94,"y":-0.15},{"s":"#20VABB","x":95,"y":-0.16},{"s":"#20VABB","x":96,"y":-0.18},{"s":"#20VABB","x":97,"y":-0.21},{"s":"#20VABB","x":98,"y":-0.27},{"s":"#20VABB","x":98.5,"y":-0.36},{"s":"#20VABB","x":99,"y":-0.5},{"s":"#20VABB","x":99.2,"y":-0.6},
{"s":"#22VABB","x":1.4,"y":-0.6},{"s":"#22VABB","x":1.7,"y":-0.45},{"s":"#22VABB","x":2.1,"y":-0.3},{"s":"#22VABB","x":2.6,"y":-0.22},{"s":"#22VABB","x":3.5,"y":-0.17},{"s":"#22VABB","x":5,"y":-0.145},{"s":"#22VABB","x":6,"y":-0.138},{"s":"#22VABB","x":8,"y":-0.133},{"s":"#22VABB","x":10,"y":-0.13},{"s":"#22VABB","x":12,"y":-0.128},{"s":"#22VABB","x":14,"y":-0.132},{"s":"#22VABB","x":16,"y":-0.135},{"s":"#22VABB","x":18,"y":-0.152},{"s":"#22VABB","x":20,"y":-0.157},{"s":"#22VABB","x":22,"y":-0.173},{"s":"#22VABB","x":24,"y":-0.178},{"s":"#22VABB","x":26,"y":-0.198},{"s":"#22VABB","x":28,"y":-0.203},{"s":"#22VABB","x":30,"y":-0.218},{"s":"#22VABB","x":32,"y":-0.225},{"s":"#22VABB","x":34,"y":-0.238},{"s":"#22VABB","x":36,"y":-0.24},{"s":"#22VABB","x":38,"y":-0.253},{"s":"#22VABB","x":40,"y":-0.25},{"s":"#22VABB","x":42,"y":-0.258},{"s":"#22VABB","x":44,"y":-0.255},{"s":"#22VABB","x":46,"y":-0.265},{"s":"#22VABB","x":48,"y":-0.26},{"s":"#22VABB","x":50,"y":-0.273},{"s":"#22VABB","x":52,"y":-0.27},{"s":"#22VABB","x":54,"y":-0.283},{"s":"#22VABB","x":56,"y":-0.292},{"s":"#22VABB","x":58,"y":-0.278},{"s":"#22VABB","x":60,"y":-0.28},{"s":"#22VABB","x":62,"y":-0.268},{"s":"#22VABB","x":64,"y":-0.262},{"s":"#22VABB","x":66,"y":-0.23},{"s":"#22VABB","x":68,"y":-0.2},{"s":"#22VABB","x":70,"y":-0.17},{"s":"#22VABB","x":72,"y":-0.14},{"s":"#22VABB","x":74,"y":-0.12},{"s":"#22VABB","x":76,"y":-0.1},{"s":"#22VABB","x":78,"y":-0.085},{"s":"#22VABB","x":80,"y":-0.075},{"s":"#22VABB","x":82,"y":-0.07},{"s":"#22VABB","x":84,"y":-0.072},{"s":"#22VABB","x":86,"y":-0.08},{"s":"#22VABB","x":88,"y":-0.09},{"s":"#22VABB","x":90,"y":-0.1},{"s":"#22VABB","x":92,"y":-0.107},{"s":"#22VABB","x":94,"y":-0.12},{"s":"#22VABB","x":95,"y":-0.13},{"s":"#22VABB","x":96,"y":-0.15},{"s":"#22VABB","x":97,"y":-0.18},{"s":"#22VABB","x":98,"y":-0.24},{"s":"#22VABB","x":98.5,"y":-0.32},{"s":"#22VABB","x":99,"y":-0.46},{"s":"#22VABB","x":99.5,"y":-0.6},
{"s":"#27VABB","x":0.7,"y":-0.6},{"s":"#27VABB","x":1,"y":-0.45},{"s":"#27VABB","x":1.5,"y":-0.3},{"s":"#27VABB","x":2,"y":-0.22},{"s":"#27VABB","x":3,"y":-0.16},{"s":"#27VABB","x":4,"y":-0.135},{"s":"#27VABB","x":5,"y":-0.125},{"s":"#27VABB","x":6,"y":-0.118},{"s":"#27VABB","x":8,"y":-0.112},{"s":"#27VABB","x":10,"y":-0.108},{"s":"#27VABB","x":12,"y":-0.116},{"s":"#27VABB","x":14,"y":-0.114},{"s":"#27VABB","x":16,"y":-0.13},{"s":"#27VABB","x":18,"y":-0.133},{"s":"#27VABB","x":20,"y":-0.15},{"s":"#27VABB","x":22,"y":-0.155},{"s":"#27VABB","x":24,"y":-0.175},{"s":"#27VABB","x":26,"y":-0.18},{"s":"#27VABB","x":28,"y":-0.2},{"s":"#27VABB","x":30,"y":-0.208},{"s":"#27VABB","x":32,"y":-0.225},{"s":"#27VABB","x":34,"y":-0.228},{"s":"#27VABB","x":36,"y":-0.243},{"s":"#27VABB","x":38,"y":-0.238},{"s":"#27VABB","x":40,"y":-0.25},{"s":"#27VABB","x":42,"y":-0.236},{"s":"#27VABB","x":44,"y":-0.228},{"s":"#27VABB","x":46,"y":-0.25},{"s":"#27VABB","x":48,"y":-0.245},{"s":"#27VABB","x":50,"y":-0.258},{"s":"#27VABB","x":52,"y":-0.26},{"s":"#27VABB","x":54,"y":-0.275},{"s":"#27VABB","x":56,"y":-0.265},{"s":"#27VABB","x":58,"y":-0.262},{"s":"#27VABB","x":60,"y":-0.265},{"s":"#27VABB","x":62,"y":-0.252},{"s":"#27VABB","x":64,"y":-0.238},{"s":"#27VABB","x":66,"y":-0.21},{"s":"#27VABB","x":68,"y":-0.19},{"s":"#27VABB","x":70,"y":-0.168},{"s":"#27VABB","x":72,"y":-0.15},{"s":"#27VABB","x":74,"y":-0.125},{"s":"#27VABB","x":76,"y":-0.105},{"s":"#27VABB","x":78,"y":-0.088},{"s":"#27VABB","x":80,"y":-0.076},{"s":"#27VABB","x":82,"y":-0.068},{"s":"#27VABB","x":84,"y":-0.064},{"s":"#27VABB","x":86,"y":-0.063},{"s":"#27VABB","x":88,"y":-0.065},{"s":"#27VABB","x":90,"y":-0.072},{"s":"#27VABB","x":92,"y":-0.088},{"s":"#27VABB","x":94,"y":-0.11},{"s":"#27VABB","x":95,"y":-0.125},{"s":"#27VABB","x":96,"y":-0.145},{"s":"#27VABB","x":97,"y":-0.18},{"s":"#27VABB","x":98,"y":-0.24},{"s":"#27VABB","x":98.5,"y":-0.32},{"s":"#27VABB","x":99,"y":-0.45},{"s":"#27VABB","x":99.5,"y":-0.6}
]
},
"hconcat": [
{
  "width": 446, "height": 337,
  "data": {"name": "left"},
  "mark": {"type": "line", "clip": true},
  "encoding": {
    "x": {"field": "x", "type": "quantitative", "scale": {"domain": [0, 100], "nice": false},
      "axis": {"orient": "top", "values": [0, 20, 40, 60, 80, 100], "title": "% bearing area", "titleAnchor": "start", "titleAlign": "left", "titleX": 8, "titlePadding": 5, "labelPadding": -23, "labelBaseline": "middle", "labelFlush": false, "labelOverlap": false}},
    "y": {"field": "y", "type": "quantitative", "scale": {"domain": [-0.15, 0], "nice": false},
      "axis": {"values": [-0.15, -0.13, -0.11, -0.09, -0.07, -0.05, -0.03, -0.01], "title": "slope", "labelPadding": 14, "labelExpr": "replace(format(datum.value, '.2f'), '\u2212', '-')"}},
    "color": {"field": "s", "type": "nominal",
      "scale": {"domain": ["#1VABB","#6VABB","#8VABB","#11VABB","#13VABB","#18VABB","#21VABB","#23VABB","#25VABB"],
                "range": ["#ff66f0","#9966ff","#0099ff","#00ccf0","#00e6b4","#5cf070","#f0f020","#f09640","#ff3300"]},
      "legend": {"title": null, "legendX": 80, "legendY": 95, "padding": 2, "symbolSize": 756, "rowPadding": 5.7}},
    "strokeWidth": {"field": "s", "type": "nominal", "legend": null,
      "scale": {"domain": ["#1VABB","#6VABB","#8VABB","#11VABB","#13VABB","#18VABB","#21VABB","#23VABB","#25VABB"],
                "range": [1.5, 1.8, 1.8, 1.8, 1.8, 1.8, 1.8, 2, 2.4]}}
  }
},
{
  "width": 462, "height": 339,
  "data": {"name": "right"},
  "mark": {"type": "line", "clip": true},
  "encoding": {
    "x": {"field": "x", "type": "quantitative", "scale": {"domain": [0, 100], "nice": false},
      "axis": {"orient": "top", "values": [0, 20, 40, 60, 80, 100], "title": "% bearing area", "titleAnchor": "start", "titleAlign": "left", "titleX": 0, "titlePadding": 5, "labelPadding": -23, "labelBaseline": "middle", "labelFlush": false, "labelOverlap": false}},
    "y": {"field": "y", "type": "quantitative", "scale": {"domain": [-0.6, 0], "nice": false},
      "axis": {"values": [-0.6, -0.5, -0.4, -0.3, -0.2, -0.1, 0], "title": "slope", "labelPadding": 16, "labelExpr": "replace(format(datum.value, '.2f'), '\u2212', '-')"}},
    "color": {"field": "s", "type": "nominal",
      "scale": {"domain": ["#3VABB","#5VABB","#7VABB","#10VABB","#15VABB","#17VABB","#20VABB","#22VABB","#27VABB"],
                "range": ["#ff66f0","#8c66ff","#1a80e6","#00c0f5","#00e6b4","#5cf060","#f0f020","#f08c3c","#ff3000"]},
      "legend": {"title": null, "legendX": 334, "legendY": 79, "padding": 4, "symbolSize": 625, "rowPadding": 8.1}},
    "strokeWidth": {"field": "s", "type": "nominal", "legend": null,
      "scale": {"domain": ["#3VABB","#5VABB","#7VABB","#10VABB","#15VABB","#17VABB","#20VABB","#22VABB","#27VABB"],
                "range": [2.6, 2.6, 2.8, 2.6, 2.6, 2.6, 2.6, 2.6, 3]}}
  }
}
],
"resolve": {"scale": {"color": "independent", "strokeWidth": "independent", "x": "independent", "y": "independent"}, "legend": {"color": "independent"}}
}
